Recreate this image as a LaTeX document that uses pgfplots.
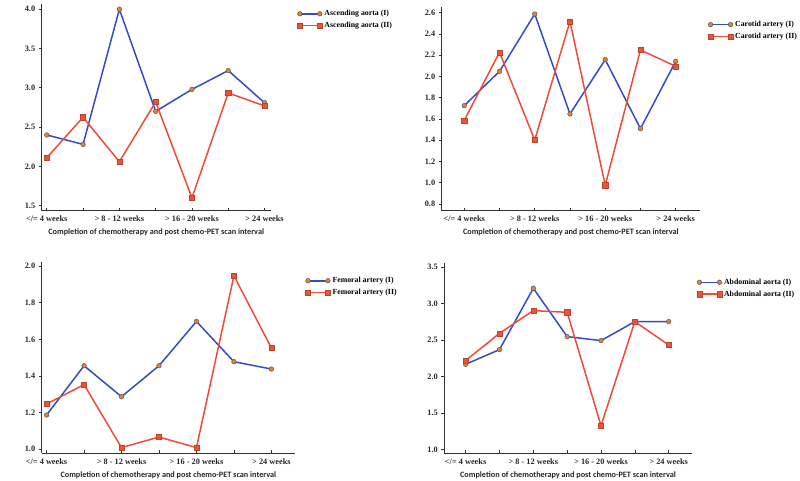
\documentclass[border=0pt]{standalone}
\usepackage{pgfplots}
\pgfplotsset{compat=1.18}
\usepackage{fontspec}
\setmainfont{Liberation Serif}
\newfontfamily\lblfont{Carlito}
\definecolor{bline}{RGB}{55,75,195}
\definecolor{rline}{RGB}{240,75,55}
\definecolor{omark}{RGB}{225,130,60}
\definecolor{rmark}{RGB}{235,85,55}
\pgfplotsset{
  panel/.style={
    scale only axis, anchor=north west,
    axis x line=bottom, axis y line=left,
    axis line style={-, black!80, line width=0.8pt},
    tick align=inside, major tick length=3pt,
    major y tick style={xshift=-3pt, black!80, line width=0.7pt},
    major x tick style={black!80, line width=0.7pt},
    xtick={0,...,6},
    xticklabels={</= 4 weeks,,> 8 - 12 weeks,,> 16 - 20 weeks,,> 24 weeks},
    ticklabel style={font=\bfseries\fontsize{8.3}{9}\selectfont, black!85},
    /pgf/number format/fixed, /pgf/number format/fixed zerofill,
    /pgf/number format/precision=1, /pgf/number format/assume math mode=true,
    xticklabel style={yshift=-2pt},
    yticklabel style={xshift=-3pt},
    xlabel={\lblfont\bfseries\fontsize{8.2}{9}\selectfont Completion of chemotherapy and post chemo-PET scan interval},
    xlabel style={yshift=0pt, black!85},
    legend style={draw=none, fill=none, inner sep=0pt, anchor=north west,
      font=\bfseries\fontsize{7.8}{8}\selectfont, row sep=1pt,
      /tikz/every even column/.append style={column sep=5pt}},
    legend cell align=left,
    legend image code/.code={\draw[#1] plot coordinates {(0pt,0pt) (20pt,0pt)};},
  },
  s1/.style={bline, line width=1.5pt, mark=*, mark size=2.3pt, mark options={fill=omark, draw=black!65, line width=0.5pt}},
  s2/.style={rline, line width=1.5pt, mark=square*, mark size=2.6pt, mark options={fill=rmark, draw=rmark!80!black, line width=0.4pt}},
}
\begin{document}
\begin{tikzpicture}
\useasboundingbox (0pt,0pt) rectangle (800pt,-481pt);
% Panel 1
\begin{axis}[panel, at={(41.7pt,-4pt)}, width=229pt, height=206.7pt,
  xmin=-0.14, xmax=6.17, ymin=1.436, ymax=4.067, ytick={1.5,2.0,...,4.0},
  legend style={at={(1.115,0.98)}}]
\addplot[s1] coordinates {(0,2.40) (1,2.28) (2,4.00) (3,2.70) (4,2.98) (5,3.22) (6,2.81)};
\addlegendentry{Ascending aorta (I)}
\addplot[s2] coordinates {(0,2.11) (1,2.625) (2,2.06) (3,2.82) (4,1.60) (5,2.935) (6,2.77)};
\addlegendentry{Ascending aorta (II)}
\end{axis}
% Panel 2
\begin{axis}[panel, at={(441.7pt,-6.7pt)}, width=258.3pt, height=204pt,
  xmin=-0.64, xmax=6.69, ymin=0.737, ymax=2.656, ytick={0.8,1.0,...,2.61},
  legend style={at={(1.03,0.94)}}]
\addplot[s1] coordinates {(0,1.725) (1,2.048) (2,2.587) (3,1.647) (4,2.158) (5,1.509) (6,2.142)};
\addlegendentry{Carotid artery (I)}
\addplot[s2] coordinates {(0,1.587) (1,2.227) (2,1.402) (3,2.518) (4,0.976) (5,2.249) (6,2.095)};
\addlegendentry{Carotid artery (II)}
\end{axis}
% Panel 3
\begin{axis}[panel, at={(41.7pt,-261.7pt)}, width=253.3pt, height=191.6pt,
  xmin=-0.13, xmax=6.63, ymin=0.978, ymax=2.024, ytick={1.0,1.2,...,2.01},
  legend style={at={(1.04,0.93)}}]
\addplot[s1] coordinates {(0,1.187) (1,1.456) (2,1.287) (3,1.456) (4,1.698) (5,1.478) (6,1.438)};
\addlegendentry{Femoral artery (I)}
\addplot[s2] coordinates {(0,1.247) (1,1.353) (2,1.009) (3,1.067) (4,1.009) (5,1.947) (6,1.553)};
\addlegendentry{Femoral artery (II)}
\end{axis}
% Panel 4
\begin{axis}[panel, at={(444.3pt,-263.3pt)}, width=247.4pt, height=190pt,
  xmin=-0.63, xmax=6.68, ymin=0.945, ymax=3.555, ytick={1.0,1.5,...,3.5},
  legend style={at={(1.02,0.93)}}]
\addplot[s1] coordinates {(0,2.168) (1,2.369) (2,3.212) (3,2.548) (4,2.493) (5,2.754) (6,2.754)};
\addlegendentry{Abdominal aorta (I)}
\addplot[s2] coordinates {(0,2.218) (1,2.593) (2,2.905) (3,2.882) (4,1.325) (5,2.754) (6,2.433)};
\addlegendentry{Abdominal aorta (II)}
\end{axis}
\end{tikzpicture}
\end{document}
